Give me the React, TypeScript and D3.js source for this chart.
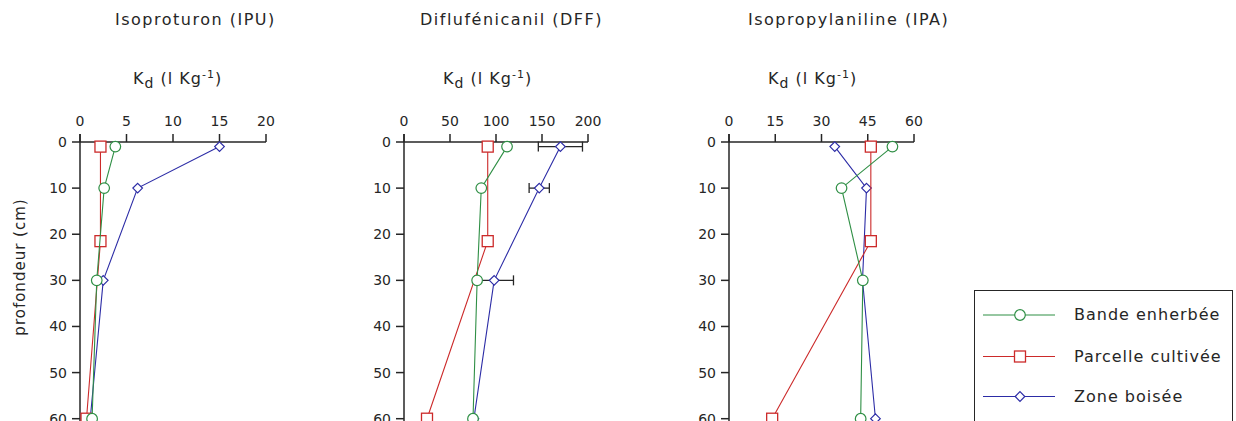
import React from "react";
import * as d3 from "d3";

// Sampling depths (cm) for each plot type
const depthsBande = [1, 10, 30, 60];
const depthsParcelle = [1, 21.5, 60];
const depthsZone = [1, 10, 30, 60];

// Kd values (l/kg) — Isoproturon
const ipuBande = [3.8, 2.6, 1.8, 1.3];
const ipuParcelle = [2.2, 2.2, 0.7];
const ipuZone = [15.0, 6.2, 2.5, 1.1];

// Kd values (l/kg) — Diflufénicanil
const dffBande = [112, 84, 79.5, 75];
const dffParcelle = [91, 91, 25];
const dffZone = [170, 147, 98, 76];
const dffZoneErr = [24, 11, 21, 0];

// Kd values (l/kg) — Isopropylaniline
const ipaBande = [53, 36.5, 43.4, 42.7];
const ipaParcelle = [46, 46, 14];
const ipaZone = [34.3, 44.6, 43.3, 47.5];

const ipuTicks = [0, 5, 10, 15, 20];
const dffTicks = [0, 50, 100, 150, 200];
const ipaTicks = [0, 15, 30, 45, 60];
const depthTicks = [0, 10, 20, 30, 40, 50, 60];

const seriesNames = ["Bande enherbée", "Parcelle cultivée", "Zone boisée"];

const GREEN = "#2f8f45";
const RED = "#cc2a2a";
const BLUE = "#2c2ca6";
const INK = "#262626";
const FONT = "'DejaVu Sans', sans-serif";

const Y_TOP = 142;
const Y_BOTTOM = 418.7;

type Panel = {
  title: string;
  x0: number;
  x1: number;
  max: number;
  ticks: number[];
  titleX: number;
  kdX: number;
  bande: number[];
  parcelle: number[];
  zone: number[];
  zoneErr?: number[];
};

const panels: Panel[] = [
  { title: "Isoproturon (IPU)", x0: 80, x1: 266, max: 20, ticks: ipuTicks, titleX: 115, kdX: 133, bande: ipuBande, parcelle: ipuParcelle, zone: ipuZone },
  { title: "Diflufénicanil (DFF)", x0: 404, x1: 588, max: 200, ticks: dffTicks, titleX: 420, kdX: 443, bande: dffBande, parcelle: dffParcelle, zone: dffZone, zoneErr: dffZoneErr },
  { title: "Isopropylaniline (IPA)", x0: 729, x1: 914, max: 60, ticks: ipaTicks, titleX: 748, kdX: 768, bande: ipaBande, parcelle: ipaParcelle, zone: ipaZone },
];

const y = d3.scaleLinear().domain([0, 60]).range([Y_TOP, Y_BOTTOM]);

function Circle({ cx, cy, color }: { cx: number; cy: number; color: string }) {
  return <circle cx={cx} cy={cy} r={5.3} fill="#fff" stroke={color} strokeWidth={1.2} />;
}
function Square({ cx, cy, color }: { cx: number; cy: number; color: string }) {
  return <rect x={cx - 5.5} y={cy - 5.5} width={11} height={11} fill="#fff" stroke={color} strokeWidth={1.3} />;
}
function Diamond({ cx, cy, color }: { cx: number; cy: number; color: string }) {
  const r = 4.8;
  return <path d={`M${cx},${cy - r}L${cx + r},${cy}L${cx},${cy + r}L${cx - r},${cy}Z`} fill="#fff" stroke={color} strokeWidth={1.2} />;
}

function KdLabel({ x }: { x: number }) {
  return (
    <text x={x} y={84} fontFamily={FONT} fontSize={16} fill={INK} letterSpacing={1}>
      K<tspan dy={4} fontSize={14}>d</tspan>
      <tspan dy={-4}>{"  (l Kg"}</tspan>
      <tspan dy={-6} fontSize={11}>-1</tspan>
      <tspan dy={6}>)</tspan>
    </text>
  );
}

function PanelView({ p }: { p: Panel }) {
  const x = d3.scaleLinear().domain([0, p.max]).range([p.x0, p.x1]);
  const line = (vals: number[], depths: number[]) =>
    d3.line<number>().x((v) => x(v)).y((_, i) => y(depths[i]))(vals) || "";
  return (
    <g>
      <text x={p.titleX} y={25} fontFamily={FONT} fontSize={16} fill={INK} letterSpacing={1.5}>{p.title}</text>
      <KdLabel x={p.kdX} />
      {/* depth axis */}
      <line x1={p.x0} x2={p.x0} y1={Y_TOP - 8} y2={440} stroke={INK} strokeWidth={1.5} />
      {depthTicks.map((t) => (
        <g key={t}>
          <line x1={p.x0 - 8} x2={p.x0} y1={y(t)} y2={y(t)} stroke={INK} strokeWidth={1.5} />
          <text x={p.x0 - 13} y={y(t) + 5} textAnchor="end" fontFamily={FONT} fontSize={14} fill={INK}>{t}</text>
        </g>
      ))}
      {/* Kd axis on top */}
      <line x1={p.x0} x2={p.x1} y1={Y_TOP} y2={Y_TOP} stroke={INK} strokeWidth={1.5} />
      {p.ticks.map((t) => (
        <g key={t}>
          <line x1={x(t)} x2={x(t)} y1={Y_TOP - 8} y2={Y_TOP} stroke={INK} strokeWidth={1.5} />
          <text x={x(t)} y={126} textAnchor="middle" fontFamily={FONT} fontSize={14} fill={INK}>{t}</text>
        </g>
      ))}
      {/* Zone boisée */}
      <path d={line(p.zone, depthsZone)} fill="none" stroke={BLUE} strokeWidth={1.1} />
      {p.zoneErr && p.zoneErr.map((e, i) => e > 0 ? (
        <g key={i} stroke={INK} strokeWidth={1.3}>
          <line x1={x(p.zone[i] - e)} x2={x(p.zone[i] + e)} y1={y(depthsZone[i])} y2={y(depthsZone[i])} />
          <line x1={x(p.zone[i] - e)} x2={x(p.zone[i] - e)} y1={y(depthsZone[i]) - 5} y2={y(depthsZone[i]) + 5} />
          <line x1={x(p.zone[i] + e)} x2={x(p.zone[i] + e)} y1={y(depthsZone[i]) - 5} y2={y(depthsZone[i]) + 5} />
        </g>
      ) : null)}
      {p.zone.map((v, i) => <Diamond key={i} cx={x(v)} cy={y(depthsZone[i])} color={BLUE} />)}
      {/* Parcelle cultivée */}
      <path d={line(p.parcelle, depthsParcelle)} fill="none" stroke={RED} strokeWidth={1.1} />
      {p.parcelle.map((v, i) => <Square key={i} cx={x(v)} cy={y(depthsParcelle[i])} color={RED} />)}
      {/* Bande enherbée */}
      <path d={line(p.bande, depthsBande)} fill="none" stroke={GREEN} strokeWidth={1.1} />
      {p.bande.map((v, i) => <Circle key={i} cx={x(v)} cy={y(depthsBande[i])} color={GREEN} />)}
    </g>
  );
}

function Legend() {
  const rows = [315, 356.5, 396.5];
  const colors = [GREEN, RED, BLUE];
  return (
    <g>
      <rect x={974.5} y={290.5} width={258} height={150} fill="#fff" stroke={INK} strokeWidth={1} />
      {seriesNames.map((name, i) => {
        const cy = rows[i];
        const M = i === 0 ? Circle : i === 1 ? Square : Diamond;
        return (
          <g key={name}>
            <line x1={983} x2={1055} y1={cy} y2={cy} stroke={colors[i]} strokeWidth={1.1} />
            <M cx={1020} cy={cy} color={colors[i]} />
            <text x={1074} y={cy + 5} fontFamily={FONT} fontSize={16} fill={INK} letterSpacing={1}>{name}</text>
          </g>
        );
      })}
    </g>
  );
}

export default function App() {
  return (
    <svg width={1236} height={421} style={{ position: "absolute", left: 0, top: 0, background: "#fff" }}>
      <rect width={1236} height={421} fill="#fff" />
      <text transform="translate(25,267) rotate(-90)" textAnchor="middle" fontFamily={FONT} fontSize={15} fill={INK} letterSpacing={1}>profondeur (cm)</text>
      {panels.map((p) => <PanelView key={p.title} p={p} />)}
      <Legend />
    </svg>
  );
}
